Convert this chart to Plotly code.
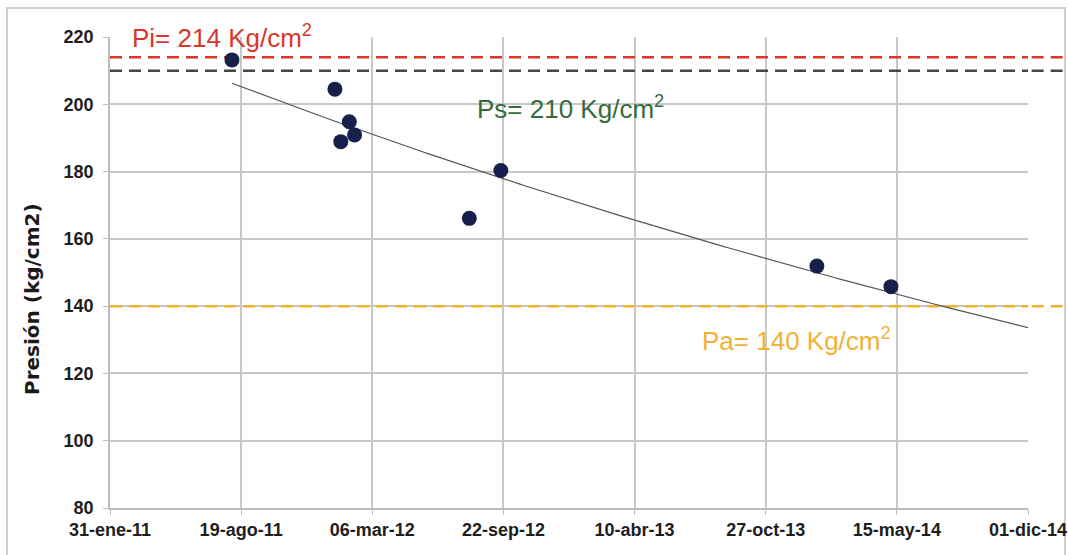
import numpy as np
import pandas as pd
import plotly.graph_objects as go

# Measured pressure readings
fechas = ["2011-08-05", "2012-01-09", "2012-01-18", "2012-01-31", "2012-02-08",
          "2012-08-01", "2012-09-18", "2014-01-13", "2014-05-06"]
presion = [213.2, 204.5, 188.9, 194.8, 190.9, 166.1, 180.3, 151.9, 145.8]

# Reference pressures
p_inicial = 214
p_saturacion = 210
p_abandono = 140

# Axis ticks
tick_fechas = ["2011-01-31", "2011-08-19", "2012-03-06", "2012-09-22",
               "2013-04-10", "2013-10-27", "2014-05-15", "2014-12-01"]
tick_textos = ["31-ene-11", "19-ago-11", "06-mar-12", "22-sep-12",
               "10-abr-13", "27-oct-13", "15-may-14", "01-dic-14"]
y_ticks = [80, 100, 120, 140, 160, 180, 200, 220]

# Exponential trend fitted to the readings, extended to the end of the axis
t = pd.to_datetime(fechas)
origen = pd.Timestamp(tick_fechas[0])
dias = np.array([(d - origen).days for d in t], dtype=float)
b, a = np.polyfit(dias, np.log(presion), 1)
fin = pd.Timestamp(tick_fechas[-1])
dias_tend = np.linspace(dias.min(), (fin - origen).days, 200)
fechas_tend = [origen + pd.Timedelta(days=float(d)) for d in dias_tend]
presion_tend = np.exp(a + b * dias_tend)

fig = go.Figure()

# Horizontal reference lines: inside the plot as traces (under the markers),
# plus a short extension out to the frame on the right
ref_lines = [(p_inicial, "#e0352b"), (p_saturacion, "#3f4a40"),
             (p_abandono, "#f2b22e")]
for val, col in ref_lines:
    fig.add_trace(go.Scatter(x=[tick_fechas[0], tick_fechas[-1]], y=[val, val],
                             mode="lines",
                             line=dict(color=col, width=2.5, dash="12px,7px"),
                             hoverinfo="skip", showlegend=False))
    fig.add_shape(type="line", xref="paper", yref="y",
                  x0=1.004, x1=1.038, y0=val, y1=val,
                  line=dict(color=col, width=2.5, dash="12px,7px"),
                  layer="above")

fig.add_trace(go.Scatter(x=fechas_tend, y=presion_tend, mode="lines",
                         line=dict(color="#555555", width=1.2),
                         hoverinfo="skip", showlegend=False))
fig.add_trace(go.Scatter(x=t, y=presion, mode="markers",
                         marker=dict(color="#17204a", size=15,
                                     line=dict(width=0)),
                         showlegend=False))

# Outer frame
fig.add_shape(type="rect", xref="paper", yref="paper",
              x0=-0.1122, x1=1.0403, y0=-0.121, y1=1.0616,
              line=dict(color="#cfcfcf", width=2), layer="below")

lbl_font = "Liberation Sans, Arial, sans-serif"
fig.add_annotation(xref="paper", yref="paper", x=0.0218, y=1.002,
                   xanchor="left", yanchor="middle", showarrow=False,
                   text=f"Pi= {p_inicial} Kg/cm<sup>2</sup>",
                   font=dict(family=lbl_font, size=26, color="#d9362b"))
fig.add_annotation(xref="paper", yref="paper", x=0.3976, y=0.851,
                   xanchor="left", yanchor="middle", showarrow=False,
                   text=f"Ps= {p_saturacion} Kg/cm<sup>2</sup>",
                   font=dict(family=lbl_font, size=26, color="#356b3c"))
fig.add_annotation(xref="paper", yref="paper", x=0.6427, y=0.357,
                   xanchor="left", yanchor="middle", showarrow=False,
                   text=f"Pa= {p_abandono} Kg/cm<sup>2</sup>",
                   font=dict(family=lbl_font, size=26, color="#f2b134"))

# Y axis title
fig.add_annotation(xref="paper", yref="paper", x=-0.085, y=0.4437,
                   xanchor="center", yanchor="middle", showarrow=False,
                   textangle=-90, text="Presión (kg/cm2)",
                   font=dict(family="DejaVu Sans, Arial, sans-serif", size=20,
                             color="#1a1a1a", weight="bold"))

tick_font = dict(family="Liberation Sans Narrow, Arial Narrow, Liberation Sans, sans-serif",
                 size=18, color="#1e1e1e", weight="bold")

fig.update_xaxes(type="date", range=[tick_fechas[0], tick_fechas[-1]],
                 tickvals=tick_fechas, ticktext=tick_textos,
                 showgrid=True, gridcolor="#c8c8c8", gridwidth=1.5,
                 showline=True, linecolor="#bdbdbd", linewidth=1.5,
                 ticks="outside", ticklen=5, tickcolor="#bdbdbd",
                 tickfont=tick_font, zeroline=False, automargin=False)
fig.update_yaxes(range=[80, 220], tickvals=y_ticks,
                 showgrid=True, gridcolor="#c8c8c8", gridwidth=1.5,
                 showline=True, linecolor="#bdbdbd", linewidth=1.5,
                 ticks="outside", ticklen=5, tickcolor="#bdbdbd",
                 tickfont=tick_font, zeroline=False, ticklabelstandoff=6,
                 automargin=False)

fig.update_layout(width=1068, height=555,
                  margin=dict(l=110, r=40, t=37, b=47),
                  paper_bgcolor="white", plot_bgcolor="white",
                  showlegend=False)

fig.write_html("out.html")
